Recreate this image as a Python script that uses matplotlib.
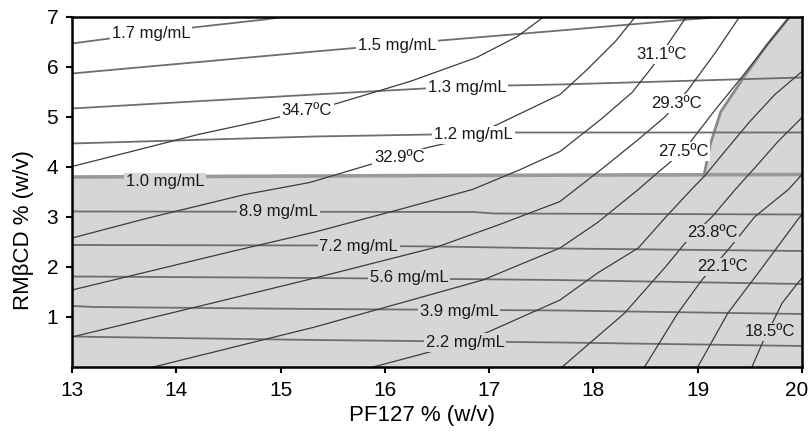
import matplotlib
matplotlib.use("Agg")
import matplotlib.pyplot as plt
import matplotlib.transforms as mtransforms

plt.rcParams['font.family'] = ['Liberation Sans', 'DejaVu Sans']

# ---- gelation temperature contours (PF127 %, RMβCD %) ----
t347_x = [13.00, 13.57, 14.21, 15.01, 15.54, 16.24, 16.88, 17.27, 17.49, 17.52]
t347_y = [4.01, 4.31, 4.65, 5.01, 5.27, 5.71, 6.19, 6.61, 6.95, 7.00]
t329_x = [13.00, 13.75, 14.66, 15.28, 15.86, 16.41, 16.75, 17.08, 17.68, 17.92, 18.21, 18.40]
t329_y = [2.58, 2.99, 3.45, 3.69, 4.05, 4.39, 4.55, 4.85, 5.45, 5.91, 6.51, 7.00]
t311_x = [13.00, 14.51, 15.33, 16.14, 16.84, 17.30, 17.68, 18.07, 18.37, 18.56, 18.77, 18.89]
t311_y = [1.54, 2.30, 2.70, 3.15, 3.55, 3.95, 4.31, 4.95, 5.49, 5.99, 6.63, 7.00]
t293_x = [13.00, 14.23, 15.33, 16.50, 17.10, 17.68, 18.11, 18.43, 18.69, 18.91, 19.17, 19.40]
t293_y = [0.60, 1.22, 1.78, 2.40, 2.85, 3.31, 4.01, 4.55, 5.01, 5.55, 6.29, 7.00]
t275_x = [13.78, 15.33, 16.94, 17.68, 18.04, 18.43, 18.64, 18.86, 18.97, 19.17, 19.42, 19.66, 19.88]
t275_y = [0.00, 0.80, 1.74, 2.38, 2.89, 3.55, 3.93, 4.31, 4.61, 5.15, 5.79, 6.43, 7.00]
t257_x = [15.89, 16.43, 16.99, 17.68, 18.04, 18.43, 18.69, 18.94, 19.07, 19.26, 19.50, 19.74, 20.00]
t257_y = [0.00, 0.30, 0.70, 1.34, 1.88, 2.38, 2.99, 3.55, 3.83, 4.31, 4.91, 5.45, 5.91]
t238_x = [17.70, 18.30, 18.69, 18.88, 19.14, 19.36, 19.55, 19.77, 20.00]
t238_y = [0.00, 1.08, 2.00, 2.48, 3.01, 3.55, 3.99, 4.51, 4.99]
t221_x = [18.49, 18.81, 19.04, 19.29, 19.55, 19.87, 20.00]
t221_y = [0.00, 1.08, 1.74, 2.34, 3.01, 3.55, 3.85]
t203_x = [19.00, 19.29, 19.58, 19.96, 20.00]
t203_y = [0.00, 1.08, 1.88, 2.95, 3.05]
t185_x = [19.52, 19.62, 19.81, 19.96, 20.00]
t185_y = [0.00, 0.48, 1.28, 1.68, 1.78]

# ---- drug solubility contours ----
s17_x = [13.00, 14.16, 14.85, 15.02]
s17_y = [6.47, 6.79, 6.95, 7.00]
s15_x = [13.00, 15.33, 16.53, 17.68, 18.91, 19.26]
s15_y = [5.87, 6.31, 6.53, 6.73, 6.95, 7.00]
s13_x = [13.00, 15.33, 16.38, 17.18, 17.68, 20.00]
s13_y = [5.17, 5.45, 5.57, 5.63, 5.65, 5.79]
s12_x = [13.00, 15.33, 16.46, 17.23, 17.68, 20.00]
s12_y = [4.47, 4.61, 4.65, 4.69, 4.69, 4.69]
s10_x = [13.00, 16.50, 20.00]
s10_y = [3.80, 3.83, 3.85]
s89_x = [13.00, 16.85, 17.05, 20.00]
s89_y = [3.11, 3.10, 3.07, 3.05]
s72_x = [13.00, 15.33, 16.50, 17.68, 20.00]
s72_y = [2.44, 2.43, 2.41, 2.37, 2.32]
s56_x = [13.00, 14.68, 15.28, 16.65, 17.63, 20.00]
s56_y = [1.81, 1.79, 1.78, 1.76, 1.74, 1.66]
s39_x = [13.00, 13.22, 15.33, 17.68, 20.00]
s39_y = [1.22, 1.20, 1.16, 1.13, 1.06]
s22_x = [13.00, 13.29, 15.33, 17.68, 20.00]
s22_y = [0.61, 0.60, 0.54, 0.49, 0.42]

# edge of the shaded region on the right
edge_x = [19.06, 19.12, 19.22, 19.44, 19.66, 19.88]
edge_y = [3.83, 4.45, 5.10, 5.79, 6.43, 7.00]

# contour labels: text, x, y, background
temp_labels = [("34.7ºC", 15.25, 5.12, "w"), ("32.9ºC", 16.14, 4.18, "w"),
               ("31.1ºC", 18.65, 6.25, "w"), ("29.3ºC", 18.80, 5.27, "w"),
               ("27.5ºC", 18.86, 4.31, "w"), ("23.8ºC", 19.14, 2.68, "g"),
               ("22.1ºC", 19.24, 2.00, "g"), ("18.5ºC", 19.69, 0.70, "g")]
sol_labels = [("1.7 mg/mL", 13.76, 6.66, "w"), ("1.5 mg/mL", 16.12, 6.43, "w"),
              ("1.3 mg/mL", 16.79, 5.58, "w"), ("1.2 mg/mL", 16.85, 4.64, "w"),
              ("1.0 mg/mL", 13.89, 3.70, "g"), ("8.9 mg/mL", 14.98, 3.10, "g"),
              ("7.2 mg/mL", 15.75, 2.41, "g"), ("5.6 mg/mL", 16.23, 1.78, "g"),
              ("3.9 mg/mL", 16.71, 1.11, "g"), ("2.2 mg/mL", 16.77, 0.49, "g")]

xticks = [13, 14, 15, 16, 17, 18, 19, 20]
yticks = [1, 2, 3, 4, 5, 6, 7]

GRAY = "#d6d6d6"
bg = {"w": "white", "g": GRAY}

fig = plt.figure(figsize=(8.11, 4.47), dpi=100)
ax = fig.add_axes([0.0888, 0.179, 0.9001, 0.783])
ax.set_xlim(13, 20)
ax.set_ylim(0, 7)

# shaded (out-of-spec) areas
ax.fill_between(s10_x, 0, s10_y, color=GRAY, lw=0, zorder=0)
ax.fill(edge_x + [20, 20], edge_y + [7, 3.8], color=GRAY, lw=0, zorder=0)

ax.plot(s10_x, s10_y, color="#9a9a9a", lw=2.6, zorder=1)
ax.plot(edge_x, edge_y, color="#8a8a8a", lw=2.0, zorder=1)

for xs, ys in [(s17_x, s17_y), (s15_x, s15_y), (s13_x, s13_y), (s12_x, s12_y),
               (s89_x, s89_y), (s72_x, s72_y), (s56_x, s56_y), (s39_x, s39_y),
               (s22_x, s22_y)]:
    ax.plot(xs, ys, color="#6e6e6e", lw=1.3, zorder=2)

for xs, ys in [(t347_x, t347_y), (t329_x, t329_y), (t311_x, t311_y),
               (t293_x, t293_y), (t275_x, t275_y), (t257_x, t257_y),
               (t238_x, t238_y), (t221_x, t221_y), (t203_x, t203_y),
               (t185_x, t185_y)]:
    ax.plot(xs, ys, color="#3c3c3c", lw=0.9, zorder=3)

for txt, x, y, b in temp_labels + sol_labels:
    ax.text(x, y, txt, ha="center", va="center", fontsize=12, color="#1a1a1a",
            zorder=5, bbox=dict(boxstyle="square,pad=0.1", fc=bg[b], ec="none"))

ax.set_xticks(xticks)
ax.set_yticks(yticks)
ax.tick_params(direction="out", length=4, width=1.5, labelsize=15, pad=6,
               color="black")
for s in ax.spines.values():
    s.set_linewidth(1.8)
    s.set_zorder(6)

# keep the last x tick label inside the canvas
last = ax.get_xticklabels()[-1]
last.set_transform(last.get_transform() +
                   mtransforms.ScaledTranslation(-4 / 72, 0, fig.dpi_scale_trans))

ax.set_xlabel("PF127 % (w/v)", fontsize=16)
ax.xaxis.set_label_coords(0.479, -0.11)
ax.set_ylabel("RMβCD % (w/v)", fontsize=16)
ax.yaxis.set_label_coords(-0.052, 0.39)

fig.savefig("out.png", dpi=100)
